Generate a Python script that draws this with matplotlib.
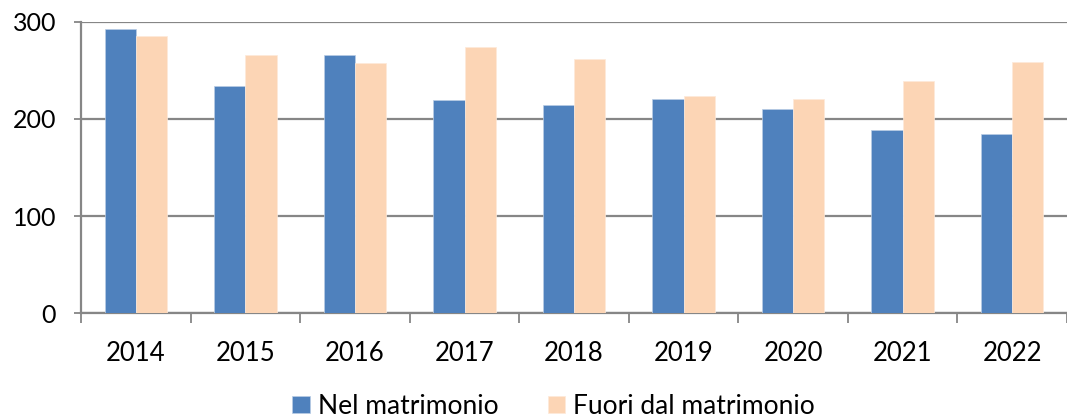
import numpy as np
import matplotlib.pyplot as plt

years = ['2014', '2015', '2016', '2017', '2018', '2019', '2020', '2021', '2022']
nel_matrimonio = [292, 234, 266, 219, 214, 221, 210, 189, 185]
fuori_matrimonio = [285, 266, 258, 274, 262, 224, 221, 239, 259]

blue = '#4F81BD'
peach = '#FCD5B5'
grid_gray = '#868686'

plt.rcParams['font.family'] = ['Lato', 'DejaVu Sans']

fig = plt.figure(figsize=(10.67, 4.2), dpi=100)
ax = fig.add_axes([0.076, 0.2536, 0.924, 0.6947])

x = np.arange(len(years))
w = 0.285
ax.bar(x - w / 2, nel_matrimonio, w, color=blue, edgecolor='#B9CDE5',
       linewidth=0.5, label='Nel matrimonio', zorder=3)
ax.bar(x + w / 2, fuori_matrimonio, w, color=peach, edgecolor='#FDE9D9',
       linewidth=0.5, label='Fuori dal matrimonio', zorder=3)

ax.set_xlim(-0.5, 8.42)
ax.set_ylim(0, 300)
ax.set_yticks([0, 100, 200, 300])
ax.yaxis.grid(True, color=grid_gray, linewidth=1.6)
ax.set_axisbelow(True)

# category boundaries get the tick marks, centres get the labels
ax.set_xticks(np.arange(-0.5, 9, 1))
ax.set_xticklabels([])
ax.set_xticks(x, minor=True)
ax.set_xticklabels(years, minor=True)
ax.tick_params(axis='x', which='major', length=7, width=1.3, color=grid_gray)
ax.tick_params(axis='x', which='minor', length=0, pad=20, labelsize=18.5)
ax.tick_params(axis='y', length=5, width=1.3, color=grid_gray, pad=13,
               labelsize=18)

for side in ['top', 'right']:
    ax.spines[side].set_visible(False)
for side in ['left', 'bottom']:
    ax.spines[side].set_color(grid_gray)
    ax.spines[side].set_linewidth(1.6)

fig.legend(loc='lower center', bbox_to_anchor=(0.519, 0.0), ncol=2, frameon=False,
           fontsize=19, handlelength=0.65, handleheight=0.65, handletextpad=0.3,
           columnspacing=1.9, borderpad=0.05, borderaxespad=0.0)

fig.savefig('out.png', dpi=100)
